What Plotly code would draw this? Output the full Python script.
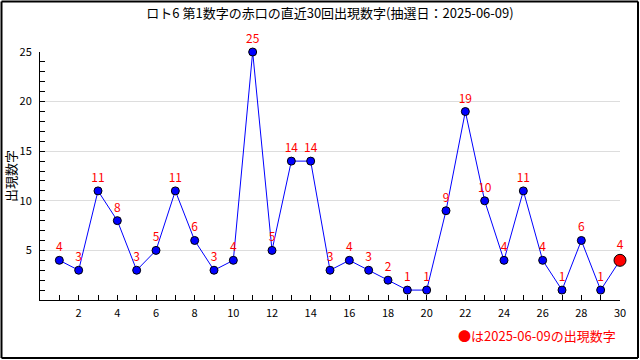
import plotly.graph_objects as go

draws = list(range(1, 31))
values = [4, 3, 11, 8, 3, 5, 11, 6, 3, 4, 25, 5, 14, 14, 3, 4, 3, 2, 1, 1, 9, 19, 10, 4, 11, 4, 1, 6, 1, 4]
title_text = "ロト6 第1数字の赤口の直近30回出現数字(抽選日：2025-06-09)"
note_text = "●は2025-06-09の出現数字"
y_title = "出現数字"

W, H = 640, 360
L, R, T, B = 40, 20, 52, 60
pw, ph = W - L - R, H - T - B

font_fam = "Noto Sans CJK JP, DejaVu Sans, sans-serif"

fig = go.Figure()
fig.add_trace(go.Scatter(
    x=draws, y=values, mode="lines+markers+text",
    line=dict(color="#0000ff", width=1),
    marker=dict(color=["#0000ff"] * (len(values) - 1) + ["#ff0000"],
                size=[8] * (len(values) - 1) + [12], opacity=1,
                line=dict(color="#000000", width=1)),
    text=[str(v) for v in values], textposition="top center",
    textfont=dict(color="#ff0000", size=12, family=font_fam),
    cliponaxis=False, showlegend=False, hoverinfo="skip",
))

fig.update_layout(
    width=W, height=H,
    margin=dict(l=L, r=R, t=T, b=B, autoexpand=False),
    paper_bgcolor="white", plot_bgcolor="white",
    title=dict(text=title_text, x=0.5, xanchor="center", y=1 - 13 / H, yanchor="middle",
               xref="paper", font=dict(size=13, color="black", family=font_fam)),
    font=dict(family=font_fam, size=11, color="black"),
    xaxis=dict(range=[0, 30], tickmode="array", tickvals=list(range(2, 31, 2)),
               ticks="inside", ticklen=5, tickcolor="black", showgrid=False,
               showline=True, linecolor="black", linewidth=1, zeroline=False,
               tickfont=dict(size=11), automargin=False, ticklabelstandoff=3,
               minor=dict(tickvals=list(range(1, 30, 2)), ticks="inside", ticklen=5, tickcolor="black")),
    yaxis=dict(range=[0, 25], tickmode="array", tickvals=[5, 10, 15, 20, 25],
               ticks="inside", ticklen=5, tickcolor="black",
               showgrid=True, gridcolor="#dddddd", gridwidth=1,
               showline=True, linecolor="black", linewidth=1, zeroline=False,
               tickfont=dict(size=11), automargin=False, ticklabelstandoff=5,
               minor=dict(tickvals=[v for v in range(1, 25) if v % 5], ticks="inside",
                          ticklen=5, tickcolor="black")),
)

fig.add_annotation(text=y_title, xref="paper", yref="paper",
                   x=-(L - 10) / pw, y=(300 - 176) / ph, textangle=-90,
                   xanchor="center", yanchor="middle", showarrow=False,
                   font=dict(size=13, color="black", family=font_fam))

fig.add_annotation(text=note_text, xref="paper", yref="paper",
                   x=1 - 2 / pw, y=-(335 - (T + ph)) / ph, xanchor="right", yanchor="middle",
                   showarrow=False, font=dict(color="#ff0000", size=13, family=font_fam))

# frame around the whole image, inset a little so it is not cut at the edges
for (x0, y0, x1, y1) in [(1.5, 1.5, 638, 1.5), (1.5, 358, 638, 358), (1.5, 1.5, 1.5, 358), (638, 1.5, 638, 358)]:
    fig.add_shape(type="line", xref="paper", yref="paper",
                  x0=(x0 - L) / pw, x1=(x1 - L) / pw,
                  y0=(T + ph - y0) / ph, y1=(T + ph - y1) / ph,
                  line=dict(color="black", width=2), layer="above")

fig.write_html(
    "out.html",
    config={"displayModeBar": False},
    post_script="document.body.style.margin='0';",
)
